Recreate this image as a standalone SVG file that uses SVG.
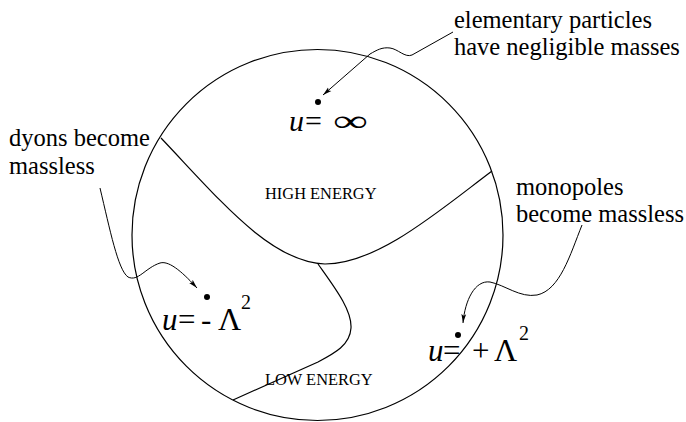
<svg xmlns="http://www.w3.org/2000/svg" width="686" height="422" viewBox="0 0 686 422">
<defs>
<style>
.lbl{font-family:"Liberation Serif","Times New Roman",serif;font-size:24.5px;fill:#000}
.reg{font-family:"Liberation Serif","Times New Roman",serif;font-size:16.4px;fill:#000}
.m{font-family:"Liberation Serif","Times New Roman",serif;fill:#000}
.it{font-style:italic}
.ln{fill:none;stroke:#000;stroke-width:1.2}
.ar{fill:none;stroke:#000;stroke-width:1}
</style>
<marker id="ah" markerWidth="10" markerHeight="6" refX="9" refY="3" orient="auto" markerUnits="userSpaceOnUse">
<path d="M0,0.6 L9,3 L0,5.4 L2,3 z" fill="#000"/>
</marker>
</defs>
<rect width="686" height="422" fill="#fff"/>
<g id="disk">
<circle cx="317.5" cy="235" r="185.5" class="ln"/>
<path class="ln" d="M161,138 C220,200 270,262 325,264 C378,264 440,210 492,171"/>
<path class="ln" d="M318,264 C335,288 352,310 351,328 C350,345 335,353 318,362 L233,400"/>
<text class="reg" x="265" y="199">HIGH ENERGY</text>
<text class="reg" x="265" y="385">LOW ENERGY</text>
</g>
<g id="u-infinity">
<circle cx="318" cy="102" r="3"/>
<text class="m it" x="289" y="131" font-size="30">u</text>
<text class="m" x="305" y="131" font-size="30">=</text>
<text class="m" x="333" y="131" font-size="30" textLength="35" lengthAdjust="spacingAndGlyphs">∞</text>
</g>
<g id="u-minus">
<circle cx="207" cy="297" r="3"/>
<text class="m it" x="162" y="330" font-size="31">u</text>
<text class="m" x="178" y="330" font-size="31">=</text>
<text class="m" x="201" y="330" font-size="31">-</text>
<text class="m" x="218" y="330" font-size="32">Λ</text>
<text class="m" x="241" y="309" font-size="20">2</text>
</g>
<g id="u-plus">
<circle cx="458" cy="335" r="3"/>
<text class="m it" x="428" y="361" font-size="31">u</text>
<text class="m" x="443" y="361" font-size="31">=</text>
<text class="m" x="472" y="361" font-size="31">+</text>
<text class="m" x="494" y="361" font-size="32">Λ</text>
<text class="m" x="519" y="340" font-size="20">2</text>
</g>
<g id="label-elementary">
<text class="lbl" x="454" y="28">elementary particles</text>
<text class="lbl" x="454" y="55">have negligible masses</text>
</g>
<g id="label-dyons">
<text class="lbl" x="9" y="146">dyons become</text>
<text class="lbl" x="9" y="174">massless</text>
</g>
<g id="label-monopoles">
<text class="lbl" x="516" y="195">monopoles</text>
<text class="lbl" x="516" y="222">become massless</text>
</g>
<g id="connectors">
<path class="ar" marker-end="url(#ah)" d="M453,32 L412,55 C405,58 398,49 390,48 C382,47 377,50 370,54 L323,95"/>
<path class="ar" marker-end="url(#ah)" d="M100,188 C110,230 118,270 128,277 C138,282 145,268 160,263 C170,260 185,275 197,288"/>
<path class="ar" marker-end="url(#ah)" d="M582,225 C570,255 560,290 537,295 C520,298 505,285 490,282 C475,280 465,300 463,323"/>
</g>
</svg>
